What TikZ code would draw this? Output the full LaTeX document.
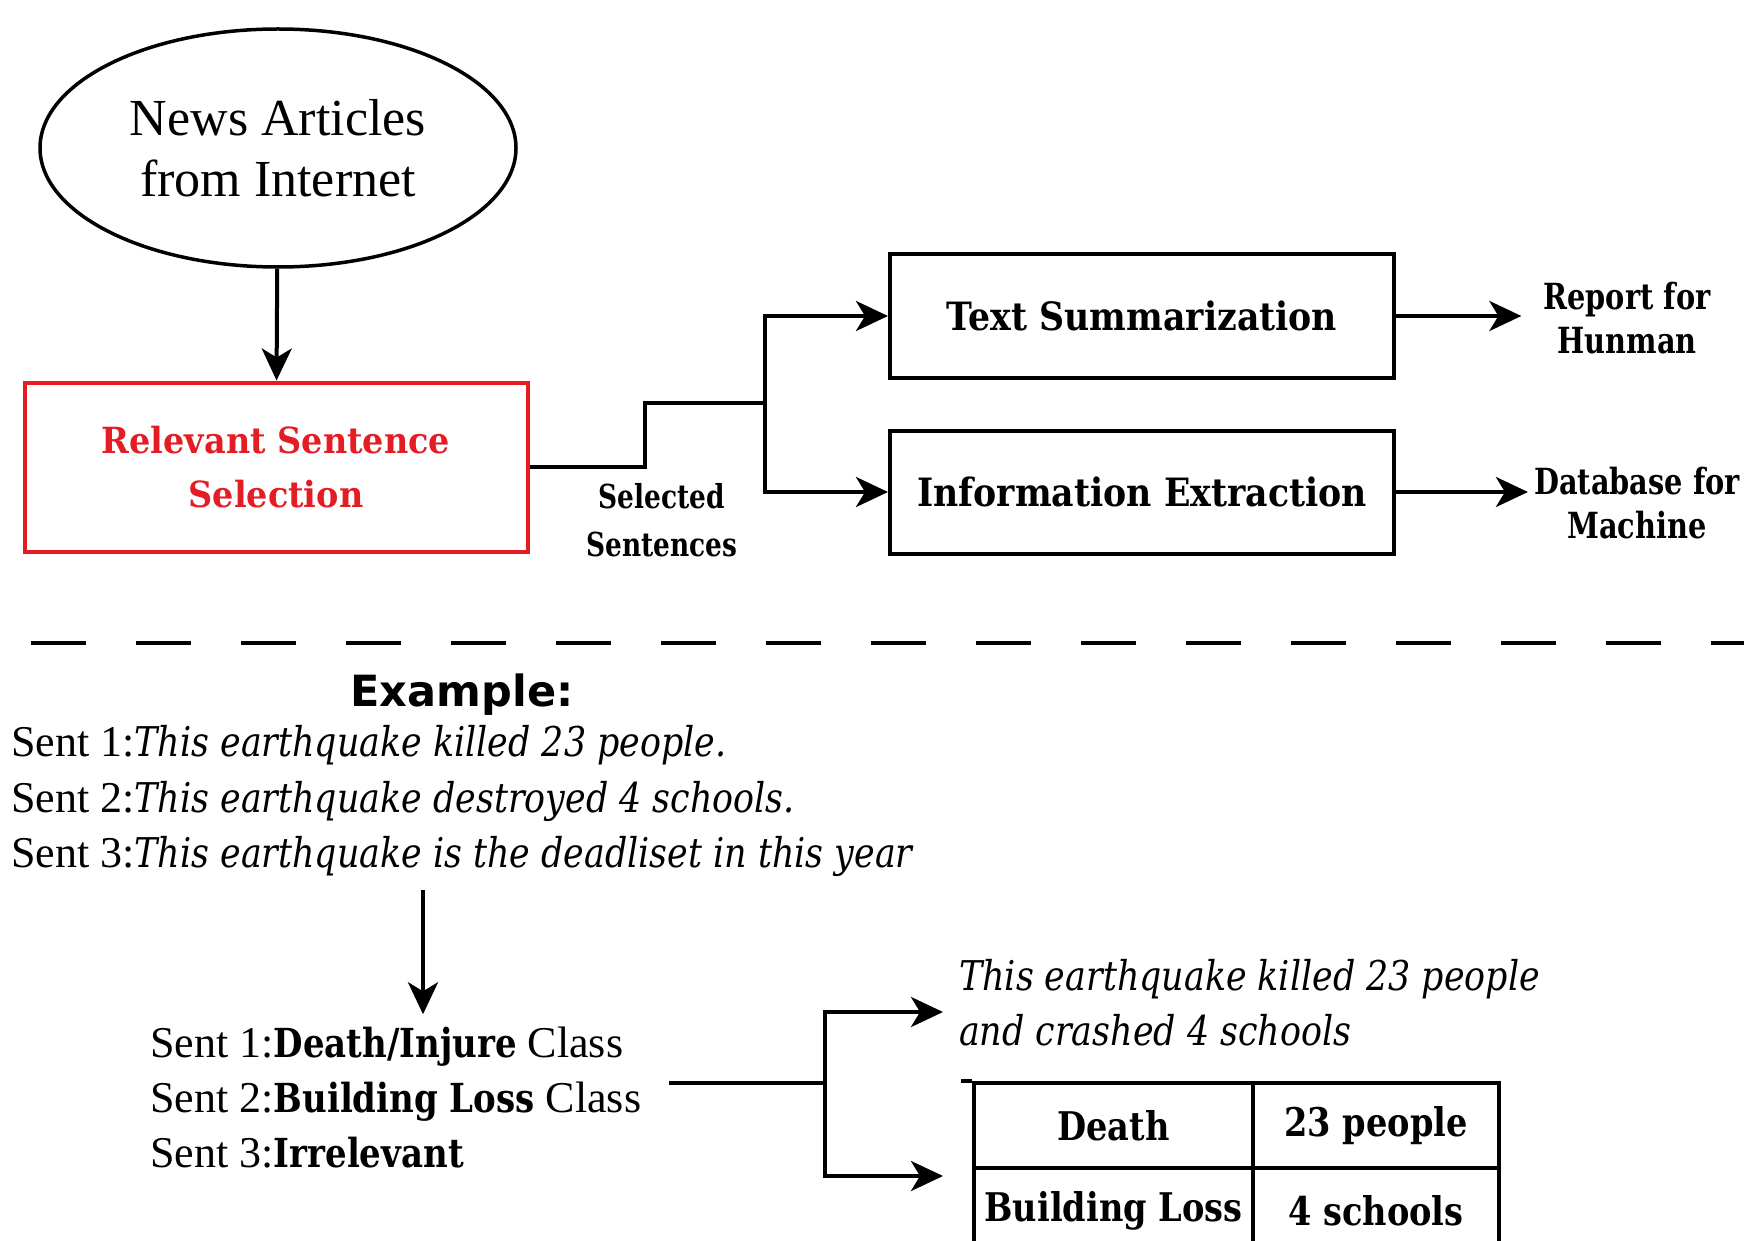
\documentclass[tikz,border=0pt]{standalone}
\usepackage{fontspec}
\setmainfont{Liberation Serif}
\newfontfamily\slab{DejaVu Serif}[FakeStretch=0.85]
\newfontfamily\slabbox{DejaVu Serif}[FakeStretch=0.89]
\newfontfamily\slabred{DejaVu Serif}[FakeStretch=0.93]
\newfontfamily\slabc{DejaVu Serif}[FakeStretch=0.8]
\newfontfamily\exfont{DejaVu Sans}
\usetikzlibrary{arrows.meta,shapes.geometric}
\definecolor{myred}{RGB}{228,28,36}
\begin{document}
\begin{tikzpicture}[x=1pt,y=-1pt,
  ln/.style={line width=4pt},
  arr/.style={line width=4pt,-{Stealth[length=32pt,width=30pt,inset=9pt]}},
  box/.style={draw,line width=4pt,minimum width=504pt,minimum height=123pt,inner sep=0pt},
  lbl/.style={font=\slabbox\bfseries\fontsize{39}{46}\selectfont},
  outlbl/.style={font=\slabc\bfseries\fontsize{36}{44}\selectfont,align=center,inner sep=0pt},
  sent/.style={anchor=base west,inner sep=0pt,font=\fontsize{44}{50}\selectfont},
  cell/.style={draw,line width=4pt,minimum height=85pt,inner sep=0pt,font=\slab\bfseries\fontsize{39.5}{46}\selectfont},
  itx/.style={font=\slab\itshape\fontsize{41}{48}\selectfont}
]
\useasboundingbox (0,0) rectangle (1744,1241);
\clip (0,0) rectangle (1744,1241);

% top flow
\node[ellipse,draw,line width=3.5pt,minimum width=476pt,minimum height=238pt,inner sep=0pt,
      align=center,font=\fontsize{52}{61}\selectfont] (news) at (278,148) {News Articles\\from Internet};
\node[draw=myred,line width=4pt,minimum width=503pt,minimum height=169pt,inner sep=0pt,
      align=center,text=myred,font=\slabred\bfseries\fontsize{36}{54}\selectfont] (rss) at (276,467)
      {Relevant Sentence\\Selection};
\draw[arr] (news) -- (rss);

\node[box,lbl] (ts) at (1142,316) {Text Summarization};
\node[box,lbl] (ie) at (1142,492) {Information Extraction};

\coordinate (st1) at (645,467);
\coordinate (st2) at (645,403);
\coordinate (jn) at (765,403);
\draw[ln] (rss.east) -- (st1) -- (st2) -- (jn);
\draw[arr] (jn) |- (ts.west);
\draw[arr] (jn) |- (ie.west);

\node[align=center,inner sep=0pt,font=\slabc\bfseries\fontsize{33}{48}\selectfont] (selsent) at (662,520) {Selected\\Sentences};

\node[outlbl] (rep) at (1627,318) {Report for\\Hunman};
\node[outlbl] (db) at (1637,503) {Database for\\Machine};
\draw[arr] (ts.east) -- ([xshift=-22pt]rep.west |- ts.east);
\draw[arr] (ie.east) -- ([xshift=-6pt]db.west |- ie.east);

% separator
\coordinate (d1) at (31,643);
\coordinate (d2) at (1744,643);
\draw[line width=4.5pt,dash pattern=on 55pt off 50pt] (d1) -- (d2);

% example
\node[font=\exfont\bfseries\fontsize{43}{50}\selectfont,anchor=base,inner sep=0pt] (ex) at (462,706) {Example:};
\node[sent] (s1) at (11,756) {Sent 1:{\slab\itshape\fontsize{41}{48}\selectfont This earthquake killed 23 people.}};
\node[sent] (s2) at (11,812) {Sent 2:{\slab\itshape\fontsize{41}{48}\selectfont This earthquake destroyed 4 schools.}};
\node[sent] (s3) at (11,867) {Sent 3:{\slab\itshape\fontsize{41}{48}\selectfont This earthquake is the deadliset in this year}};

\node[sent] (c1) at (150,1057) {Sent 1:{\slab\bfseries\fontsize{40}{48}\selectfont Death/Injure} Class};
\node[sent] (c2) at (150,1112) {Sent 2:{\slab\bfseries\fontsize{40}{48}\selectfont Building Loss} Class};
\node[sent] (c3) at (150,1167) {Sent 3:{\slab\bfseries\fontsize{40}{48}\selectfont Irrelevant}};

\coordinate (ax) at (423,0);
\draw[arr] ([yshift=-14pt]s3.south -| ax) -- ([yshift=12pt]c1.north -| ax);

% results
\node[itx,anchor=base west,inner sep=0pt] (sum1) at (959,990) {This earthquake killed 23 people};
\node[itx,anchor=base west,inner sep=0pt] (sum2) at (959,1045) {and crashed 4 schools};

\node[cell,minimum width=279pt] (t11) at (1113.5,1125.5) {Death};
\node[cell,minimum width=246pt] (t12) at (1376,1125.5) {23 people};
\node[cell,minimum width=279pt] (t21) at (1113.5,1210.5) {Building Loss};
\node[cell,minimum width=246pt] (t22) at (1376,1210.5) {4 schools};
\draw[ln] (t11.north west) -- ++(-11,0);

\coordinate (j2) at (825,1083);
\coordinate (tip1) at (943,1012);
\coordinate (tip2) at (943,1176);
\draw[ln] ([xshift=28pt]c2.east |- j2) -- (j2);
\draw[arr] (j2) |- (tip1);
\draw[arr] (j2) |- (tip2);
\end{tikzpicture}
\end{document}
